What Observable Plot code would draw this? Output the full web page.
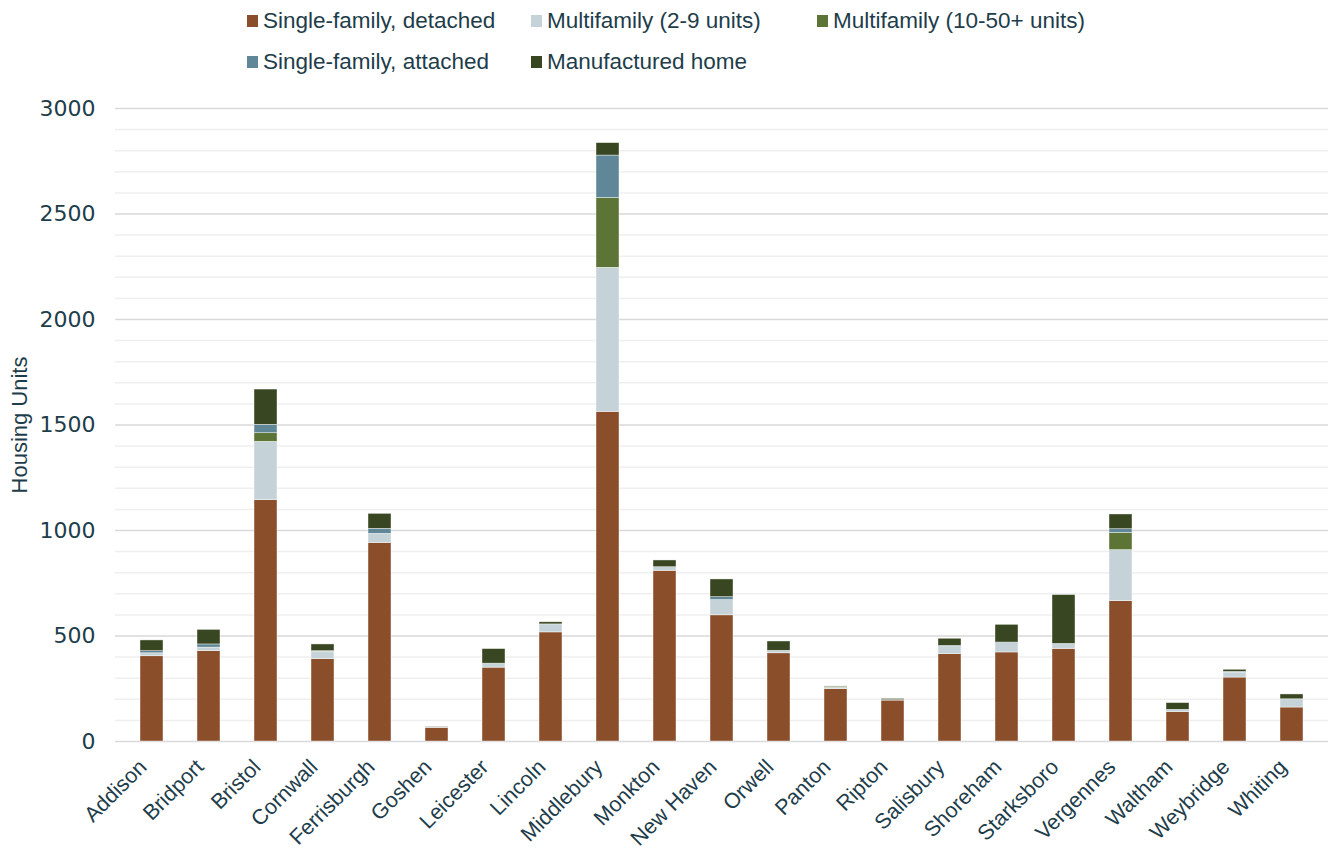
<!DOCTYPE html>
<html>
<head>
<meta charset="utf-8">
<script src="https://cdn.jsdelivr.net/npm/d3@7"></script>
<script src="https://cdn.jsdelivr.net/npm/@observablehq/plot@0.6"></script>
<style>
  html, body { margin: 0; padding: 0; background: #fff; }
  #wrap { position: relative; width: 1330px; height: 850px; overflow: hidden; }
  #legend { position: relative; width: 1330px; height: 88px; font-family: "Liberation Sans", Arial, sans-serif; font-size: 22.5px; color: #1e3d4a; }
  .item { position: absolute; display: flex; align-items: center; white-space: nowrap; line-height: 1; }
  .sw { width: 11px; height: 12px; margin-right: 5px; flex: none; }
  #chart svg { display: block; }
</style>
</head>
<body>
<div id="wrap">
  <div id="legend"></div>
  <div id="chart"></div>
</div>
<script>
const towns = ["Addison","Bridport","Bristol","Cornwall","Ferrisburgh","Goshen","Leicester","Lincoln","Middlebury","Monkton","New Haven","Orwell","Panton","Ripton","Salisbury","Shoreham","Starksboro","Vergennes","Waltham","Weybridge","Whiting"];

const seriesNames = ["Single-family, detached","Multifamily (2-9 units)","Multifamily (10-50+ units)","Single-family, attached","Manufactured home"];
const seriesColors = ["#8b4e2b","#c5d3d9","#5c7536","#5f8797","#384622"];

const singleDetached = [404, 428, 1144, 390, 941, 65, 350, 517, 1562, 809, 598, 418, 248, 194, 414, 422, 439, 665, 139, 303, 161];
const multi2to9      = [14, 17, 276, 33, 43, 2, 17, 38, 683, 17, 72, 10, 6, 2, 34, 44, 18, 242, 11, 23, 39];
const multi10plus    = [0, 0, 41, 3, 0, 0, 0, 0, 331, 0, 0, 2, 5, 0, 0, 0, 0, 82, 0, 0, 0];
const singleAttached = [10, 15, 40, 2, 24, 0, 2, 0, 201, 0, 14, 0, 0, 0, 5, 3, 6, 17, 0, 4, 0];
const manufactured   = [51, 69, 167, 32, 71, 3, 69, 10, 59, 32, 84, 44, 2, 6, 34, 84, 231, 70, 32, 10, 23];

const yTicks = [0, 500, 1000, 1500, 2000, 2500, 3000];
const yMinorStep = 100;
const yLabel = "Housing Units";

const seriesValues = [singleDetached, multi2to9, multi10plus, singleAttached, manufactured];
const data = [];
seriesNames.forEach((s, si) => {
  towns.forEach((t, ti) => data.push({town: t, type: s, value: seriesValues[si][ti]}));
});

const minorTicks = d3.range(0, 3000 + 1, yMinorStep).filter(v => !yTicks.includes(v));

// Legend
const legendPos = [[247, 21], [531, 21], [817, 21], [247, 62], [531, 62]];
const legend = document.getElementById("legend");
seriesNames.forEach((s, i) => {
  const it = document.createElement("div");
  it.className = "item";
  it.style.left = legendPos[i][0] + "px";
  it.style.top = (legendPos[i][1] - 11) + "px";
  it.style.height = "22px";
  const sw = document.createElement("span");
  sw.className = "sw";
  sw.style.background = seriesColors[i];
  const tx = document.createElement("span");
  tx.textContent = s;
  it.appendChild(sw); it.appendChild(tx);
  legend.appendChild(it);
});

const textColor = "#1e3d4a";
const chart = Plot.plot({
  width: 1330,
  height: 762,
  marginTop: 20,
  marginBottom: 109,
  marginLeft: 115,
  marginRight: 2,
  style: {fontFamily: "'Liberation Sans', Arial, sans-serif", color: textColor, background: "#fff"},
  x: {domain: towns, paddingInner: 0.6, paddingOuter: 0.3, label: null},
  y: {domain: [0, 3000], label: null},
  color: {domain: seriesNames, range: seriesColors},
  marks: [
    Plot.ruleY(minorTicks, {stroke: "#efefef", strokeWidth: 1.5}),
    Plot.ruleY(yTicks, {stroke: "#d9d9d9", strokeWidth: 1.5}),
    Plot.barY(data, {x: "town", y: "value", fill: "type", stroke: "#ffffff", strokeWidth: 0.6, strokeOpacity: 0.7}),
    Plot.axisY({ticks: yTicks, tickSize: 0, tickPadding: 20, fontSize: 22, fontFamily: "DejaVu Sans", label: null, tickFormat: d => String(d)}),
    Plot.axisX({tickSize: 0, tickPadding: 10, tickRotate: -45, fontSize: 21.5, dx: -9, dy: 12, label: null}),
    Plot.text([yLabel], {frameAnchor: "left", textAnchor: "middle", rotate: -90, dx: -96, fontSize: 22, fill: textColor, text: d => d})
  ]
});
document.getElementById("chart").appendChild(chart);
</script>
</body>
</html>
